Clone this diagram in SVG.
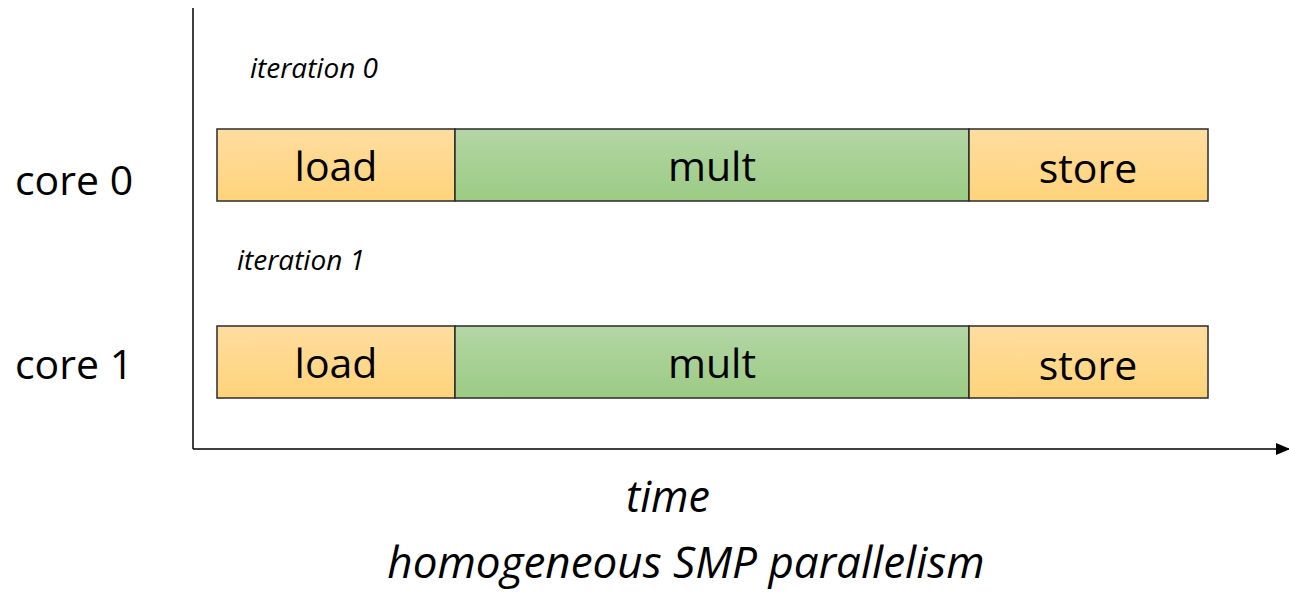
<svg xmlns="http://www.w3.org/2000/svg" width="1289" height="592" viewBox="0 0 1289 592">
<defs>
<linearGradient id="gO" x1="0" y1="0" x2="0" y2="1"><stop offset="0" stop-color="#FFDDA0"/><stop offset="1" stop-color="#FFD37A"/></linearGradient>
<linearGradient id="gG" x1="0" y1="0" x2="0" y2="1"><stop offset="0" stop-color="#B4D6A5"/><stop offset="1" stop-color="#9BCB84"/></linearGradient>
<marker id="arr" markerWidth="14" markerHeight="14" refX="13" refY="7" orient="auto" markerUnits="userSpaceOnUse"><path d="M0,1 L14,7 L0,13 Z" fill="#000"/></marker>
<style>
.o{fill:url(#gO);stroke:#2b2b2b;stroke-width:1.5}
.g{fill:url(#gG);stroke:#2b2b2b;stroke-width:1.5}
.t{font-family:"Open Sans","Liberation Sans",sans-serif;fill:#000;text-anchor:middle}
.box{font-size:41px}
.it{font-style:italic;font-size:28px;text-anchor:start}
.ax{stroke:#000;stroke-width:1.5;fill:none}
</style>
</defs>
<g id="connectors">
<line class="ax" x1="193" y1="8" x2="193" y2="449"/>
<line class="ax" x1="193" y1="449" x2="1289" y2="449" marker-end="url(#arr)"/>
</g>
<g id="label-core0"><text class="t" x="74" y="195" font-size="41">core 0</text></g>
<g id="label-core1"><text class="t" x="74" y="379" font-size="41">core 1</text></g>
<g id="label-iter0"><text class="t it" x="250" y="78">iteration 0</text></g>
<g id="label-iter1"><text class="t it" x="237" y="270">iteration 1</text></g>
<g id="load0"><rect class="o" x="217" y="129" width="238" height="72"/><text class="t box" x="336" y="181">load</text></g>
<g id="mult0"><rect class="g" x="455" y="129" width="514" height="72"/><text class="t box" x="712" y="181">mult</text></g>
<g id="store0"><rect class="o" x="969" y="129" width="239" height="72"/><text class="t box" x="1088" y="183">store</text></g>
<g id="load1"><rect class="o" x="217" y="326" width="238" height="72"/><text class="t box" x="336" y="378">load</text></g>
<g id="mult1"><rect class="g" x="455" y="326" width="514" height="72"/><text class="t box" x="712" y="378">mult</text></g>
<g id="store1"><rect class="o" x="969" y="326" width="239" height="72"/><text class="t box" x="1088" y="380">store</text></g>
<g id="label-time"><text class="t" x="668" y="512" font-size="43" font-style="italic">time</text></g>
<g id="title"><text class="t" x="686" y="578" font-size="44" font-style="italic">homogeneous SMP parallelism</text></g>
</svg>
